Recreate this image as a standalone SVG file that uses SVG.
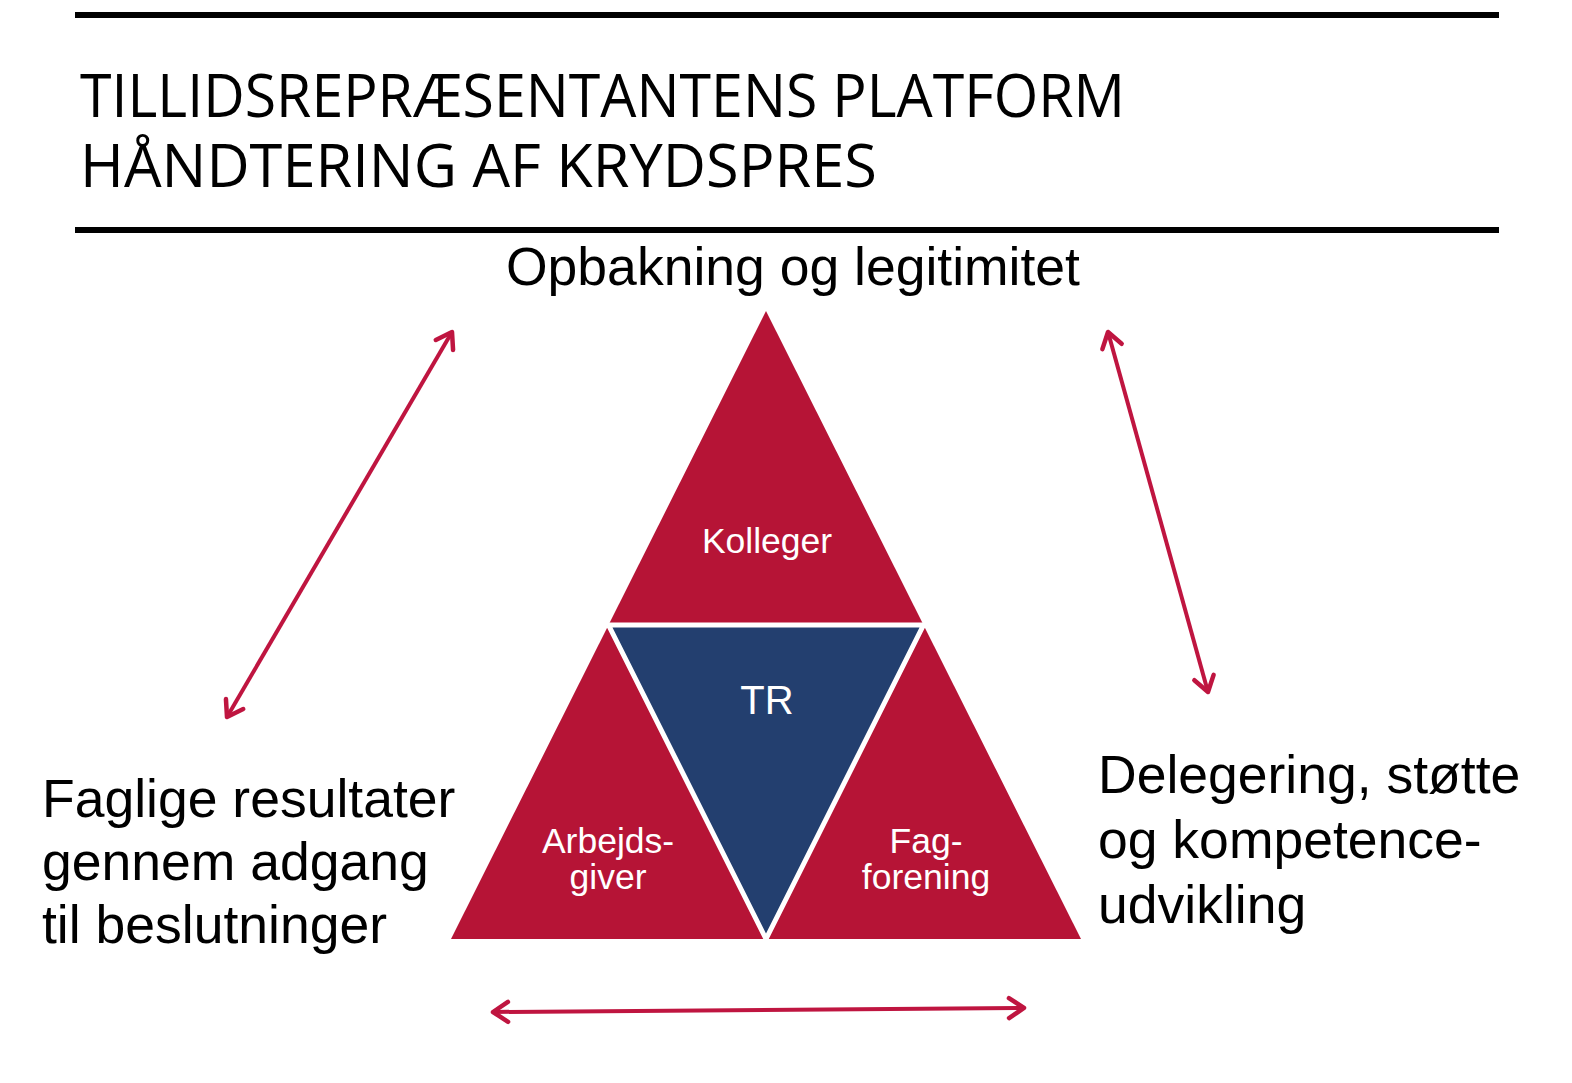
<svg xmlns="http://www.w3.org/2000/svg" width="1572" height="1083" viewBox="0 0 1572 1083">
  <style>
    .title { font-family: "Open Sans", "Noto Sans", sans-serif; font-size: 60px; fill: #000; }
    .label { font-family: "Liberation Sans", Arial, sans-serif; font-size: 53.5px; fill: #000; }
    .inner { font-family: "Liberation Sans", Arial, sans-serif; font-size: 35.5px; fill: #fff; text-anchor: middle; }
    .red { fill: #B61436; }
    .blue { fill: #233F6F; stroke: #fff; stroke-width: 5; stroke-linejoin: miter; }
    .conn { stroke: #BF1540; stroke-width: 4; fill: none; marker-start: url(#head); marker-end: url(#head); }
    .rule { stroke: #000; stroke-width: 6; }
  </style>
  <defs>
    <marker id="head" markerUnits="userSpaceOnUse" viewBox="0 0 26 26" markerWidth="26" markerHeight="26" refX="22" refY="13" orient="auto-start-reverse">
      <path d="M7,3 L22,13 L7,23" fill="none" stroke="#BF1540" stroke-width="4.5" stroke-linecap="round" stroke-linejoin="round"/>
    </marker>
  </defs>
  <rect width="1572" height="1083" fill="#fff"/>

  <g id="header">
    <line class="rule" x1="75" y1="15" x2="1499" y2="15"/>
    <text class="title" x="80" y="117" textLength="1045" lengthAdjust="spacingAndGlyphs">TILLIDSREPRÆSENTANTENS PLATFORM</text>
    <text class="title" x="80" y="187" textLength="797" lengthAdjust="spacingAndGlyphs">HÅNDTERING AF KRYDSPRES</text>
    <line class="rule" x1="75" y1="230" x2="1499" y2="230"/>
  </g>

  <g id="pyramid">
    <polygon class="red" points="766,311 1081,939 451,939"/>
  </g>
  <g id="node-kolleger">
    <text class="inner" x="767" y="553">Kolleger</text>
  </g>
  <g id="node-tr">
    <polygon class="blue" points="608.5,625 923.5,625 766,939"/>
    <text class="inner" x="767" y="714" style="font-size:40px">TR</text>
  </g>
  <g id="node-arbejdsgiver">
    <text class="inner" x="608" y="853">Arbejds-</text>
    <text class="inner" x="608" y="889">giver</text>
  </g>
  <g id="node-fagforening">
    <text class="inner" x="926" y="853">Fag-</text>
    <text class="inner" x="926" y="889">forening</text>
  </g>

  <g id="label-top">
    <text class="label" x="793" y="285" text-anchor="middle">Opbakning og legitimitet</text>
  </g>
  <g id="label-left">
    <text class="label" x="42" y="817">Faglige resultater</text>
    <text class="label" x="42" y="880">gennem adgang</text>
    <text class="label" x="42" y="943">til beslutninger</text>
  </g>
  <g id="label-right">
    <text class="label" x="1098" y="793">Delegering, støtte</text>
    <text class="label" x="1098" y="858">og kompetence-</text>
    <text class="label" x="1098" y="923">udvikling</text>
  </g>

  <g id="connectors">
    <line class="conn" x1="227" y1="717" x2="452" y2="332"/>
    <line class="conn" x1="1108" y1="332" x2="1208" y2="692"/>
    <line class="conn" x1="493" y1="1012" x2="1024" y2="1008"/>
  </g>
</svg>
